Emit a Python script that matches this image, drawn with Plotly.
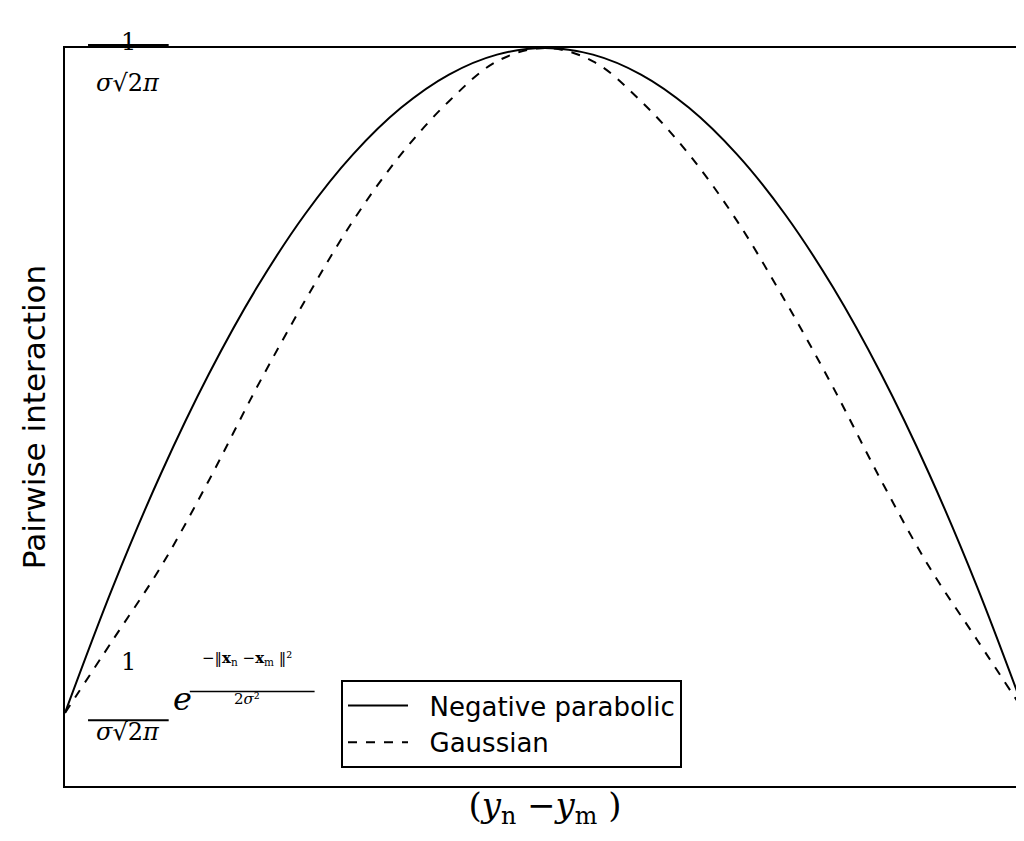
import plotly.graph_objects as go

x_vals = [-1, -0.9, -0.8, -0.7, -0.6, -0.5, -0.4, -0.3, -0.2, -0.1, 0,
          0.1, 0.2, 0.3, 0.4, 0.5, 0.6, 0.7, 0.8, 0.9, 1]
parabolic = [0, 0.19, 0.36, 0.51, 0.64, 0.75, 0.84, 0.91, 0.96, 0.99, 1,
             0.99, 0.96, 0.91, 0.84, 0.75, 0.64, 0.51, 0.36, 0.19, 0]
gaussian = [0, 0.11, 0.22, 0.35, 0.49, 0.62, 0.74, 0.84, 0.92, 0.98, 1,
            0.98, 0.92, 0.84, 0.74, 0.62, 0.49, 0.35, 0.22, 0.11, 0]

fig = go.Figure()
fig.add_trace(go.Scatter(x=x_vals, y=parabolic, mode="lines", name="  Negative parabolic",
                         line=dict(color="black", width=2, shape="spline")))
fig.add_trace(go.Scatter(x=x_vals, y=gaussian, mode="lines", name="  Gaussian",
                         line=dict(color="black", width=2, dash="dash", shape="spline")))

fig.update_layout(
    width=1024, height=841, plot_bgcolor="white", paper_bgcolor="white",
    margin=dict(l=57, r=7, t=40, b=63, autoexpand=False),
    font=dict(family="DejaVu Sans", color="black"),
    xaxis=dict(range=[-1, 1], showticklabels=False, ticks="", showgrid=False, zeroline=False,
               showline=True, mirror=True, linecolor="black", linewidth=2, automargin=False,
               title=dict(text="(<i>y</i><sub>n</sub> −<i>y</i><sub>m</sub> )",
                          font=dict(family="DejaVu Serif", size=34), standoff=6)),
    yaxis=dict(range=[-0.11, 1.0], showticklabels=False, ticks="", showgrid=False, zeroline=False,
               showline=True, mirror=True, linecolor="black", linewidth=2, automargin=False,
               title=dict(text="Pairwise interaction", font=dict(size=31), standoff=8)),
    legend=dict(x=0.2875, y=0.1436, xanchor="left", yanchor="top", bordercolor="black",
                borderwidth=2, bgcolor="white", font=dict(size=26), itemwidth=60),
    showlegend=True,
)

serif = dict(family="DejaVu Serif", size=24, color="black")
# top label: 1 / (sigma sqrt(2pi))
fig.add_annotation(xref="paper", yref="paper", x=0.066, y=1.03, text="1", showarrow=False,
                   font=serif, xanchor="center")
fig.add_annotation(xref="paper", yref="paper", x=0.066, y=0.974, text="<i>σ</i>√2<i>π</i>",
                   showarrow=False, font=serif, xanchor="center")
fig.add_shape(type="line", xref="paper", yref="paper", x0=0.024, x1=0.108, y0=1.004, y1=1.004,
              line=dict(color="black", width=2))
# bottom label
fig.add_annotation(xref="paper", yref="paper", x=0.066, y=0.146, text="1", showarrow=False,
                   font=serif, xanchor="center")
fig.add_annotation(xref="paper", yref="paper", x=0.066, y=0.052, text="<i>σ</i>√2<i>π</i>",
                   showarrow=False, font=serif, xanchor="center")
fig.add_shape(type="line", xref="paper", yref="paper", x0=0.024, x1=0.108, y0=0.089, y1=0.089,
              line=dict(color="black", width=2))
fig.add_annotation(xref="paper", yref="paper", x=0.11, y=0.09, xanchor="left",
                   text="<i>e</i>", showarrow=False, font=dict(family="DejaVu Serif", size=32))
fig.add_annotation(xref="paper", yref="paper", x=0.19, y=0.157, xanchor="center",
                   text="−‖<b>x</b><sub>n</sub> −<b>x</b><sub>m</sub> ‖²", showarrow=False,
                   font=dict(family="DejaVu Serif", size=15))
fig.add_shape(type="line", xref="paper", yref="paper", x0=0.13, x1=0.26, y0=0.128, y1=0.128,
              line=dict(color="black", width=1.5))
fig.add_annotation(xref="paper", yref="paper", x=0.19, y=0.103, xanchor="center",
                   text="2<i>σ</i>²", showarrow=False, font=dict(family="DejaVu Serif", size=15))

fig.write_html("out.html")
